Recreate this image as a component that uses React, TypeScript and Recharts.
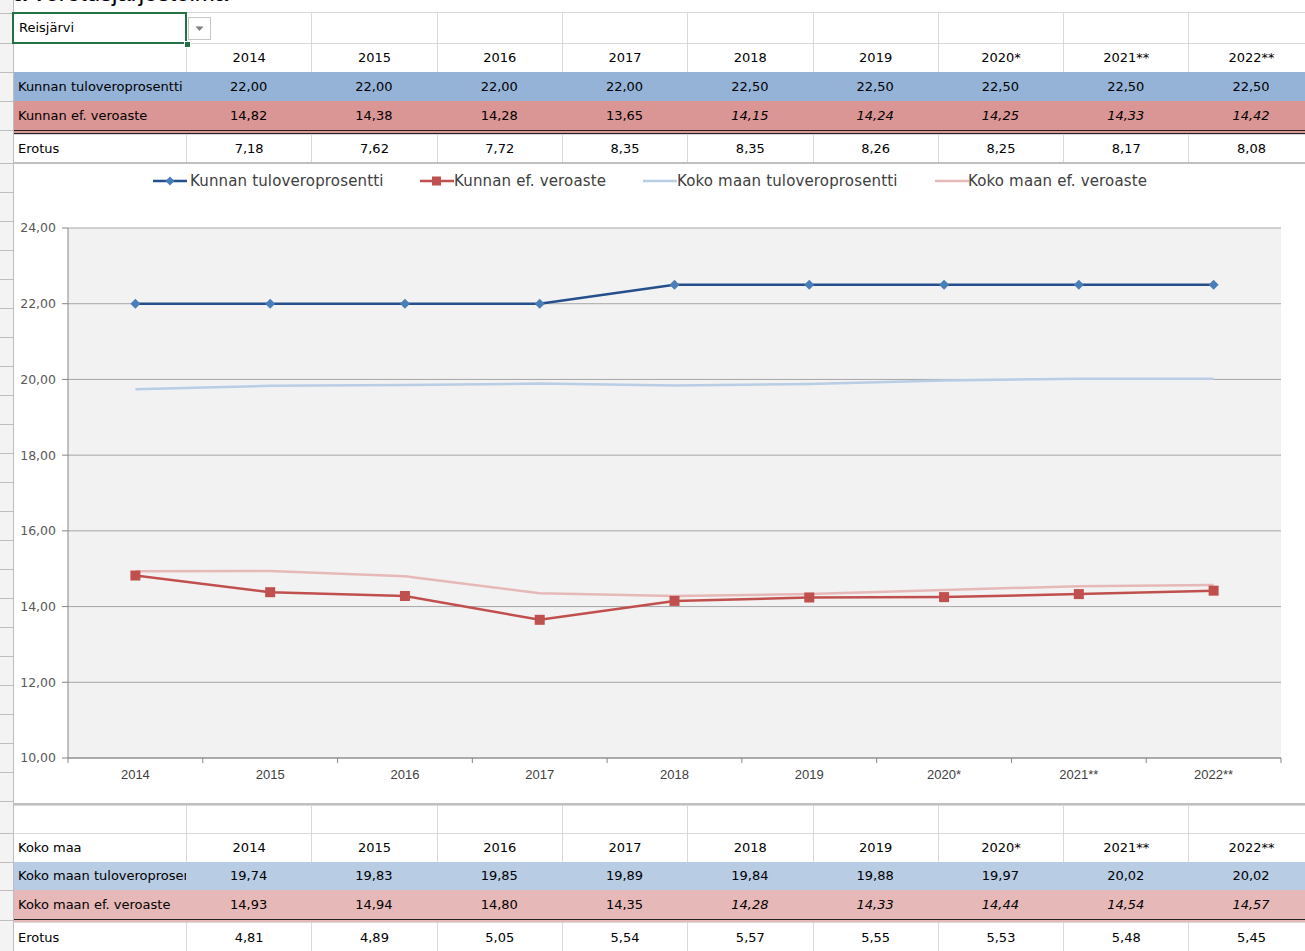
import React from 'react';
import { LineChart, Line, XAxis, YAxis, CartesianGrid, Legend } from 'recharts';

// chart categories (x axis) and table headers
const years = ['2014', '2015', '2016', '2017', '2018', '2019', '2020*', '2021**', '2022**'];

// Reisjärvi
const kunnanTulovero = [22.0, 22.0, 22.0, 22.0, 22.5, 22.5, 22.5, 22.5, 22.5];
const kunnanEfVeroaste = [14.82, 14.38, 14.28, 13.65, 14.15, 14.24, 14.25, 14.33, 14.42];
const kunnanErotus = [7.18, 7.62, 7.72, 8.35, 8.35, 8.26, 8.25, 8.17, 8.08];

// koko maa
const kokoTulovero = [19.74, 19.83, 19.85, 19.89, 19.84, 19.88, 19.97, 20.02, 20.02];
const kokoEfVeroaste = [14.93, 14.94, 14.8, 14.35, 14.28, 14.33, 14.44, 14.54, 14.57];
const kokoErotus = [4.81, 4.89, 5.05, 5.54, 5.57, 5.55, 5.53, 5.48, 5.45];

// first column shown as an estimate (italic) in the ef. veroaste rows
const estimateFrom = 4;

const yTicks = [10, 12, 14, 16, 18, 20, 22, 24];

const data = years.map((year, i) => ({
  year,
  kt: kunnanTulovero[i],
  ke: kunnanEfVeroaste[i],
  mt: kokoTulovero[i],
  me: kokoEfVeroaste[i],
}));

const fmt = (v: number) => v.toFixed(2).replace('.', ',');

const CELL_FONT = '"DejaVu Sans", Verdana, sans-serif';
const GRID = '#d9d9d9';
const LABEL_LEFT = 14;
const LABEL_W = 172;
const COL_W = 125.3;
const colLeft = (i: number) => LABEL_LEFT + LABEL_W + i * COL_W;

// chart box
const CHART_W = 1291;
const Y_AXIS_W = 54;
const RIGHT_M = 24;
const HALF_BAND = (CHART_W - Y_AXIS_W - RIGHT_M) / years.length / 2;

type RowProps = {
  top: number;
  height: number;
  bg?: string;
  label?: string;
  cells?: string[];
  italicFrom?: number;
  doubleBottom?: boolean;
};

const Row = ({ top, height, bg, label, cells, italicFrom, doubleBottom }: RowProps) => {
  const filled = !!bg;
  return (
    <div style={{
      position: 'absolute', left: LABEL_LEFT, top, width: 1305 - LABEL_LEFT, height,
      background: bg || '#fff', borderTop: filled ? 'none' : `1px solid ${GRID}`,
      borderBottom: doubleBottom ? '4px double #222' : 'none',
      boxSizing: 'content-box',
    }}>
      <div style={{
        position: 'absolute', left: 0, top: 0, width: LABEL_W - 4, height, paddingLeft: 4,
        lineHeight: `${height}px`, fontFamily: CELL_FONT, fontSize: 13, color: '#000',
        whiteSpace: 'nowrap', overflow: 'hidden',
      }}>{label}</div>
      {years.map((_, i) => (
        <div key={i} style={{
          position: 'absolute', left: colLeft(i) - LABEL_LEFT, top: 0, width: COL_W, height,
          borderLeft: filled ? 'none' : `1px solid ${GRID}`, boxSizing: 'border-box',
          textAlign: 'center', lineHeight: `${height}px`, fontFamily: CELL_FONT, fontSize: 13,
          color: '#000', fontStyle: italicFrom !== undefined && i >= italicFrom ? 'italic' : 'normal',
        }}>{cells ? cells[i] : ''}</div>
      ))}
    </div>
  );
};

const Diamond = (p: any) => {
  const { cx, cy, index } = p;
  if (cx == null || cy == null) return <g key={`dm-${index}`} />;
  const r = 5;
  return <path key={`dm-${index}`} d={`M${cx},${cy - r}L${cx + r},${cy}L${cx},${cy + r}L${cx - r},${cy}Z`} fill="#4a7ebb" />;
};

const Square = (p: any) => {
  const { cx, cy, index } = p;
  if (cx == null || cy == null) return <g key={`sq-${index}`} />;
  const r = 5;
  return <rect key={`sq-${index}`} x={cx - r} y={cy - r} width={2 * r} height={2 * r} fill="#c0504d" />;
};

const XTick = (props: any) => {
  const { x, y, payload, index } = props;
  const axisY = y - 12;
  return (
    <g>
      <line x1={x - HALF_BAND} x2={x - HALF_BAND} y1={axisY} y2={axisY + 5} stroke="#868686" />
      {index === years.length - 1 && <line x1={x + HALF_BAND} x2={x + HALF_BAND} y1={axisY} y2={axisY + 5} stroke="#868686" />}
      <text x={x} y={y} dy="0.71em" textAnchor="middle" fontFamily='"Liberation Sans", Arial, sans-serif' fontSize={13} fill="#404040">{payload.value}</text>
    </g>
  );
};

const legendItems = [
  { name: 'Kunnan tuloveroprosentti', color: '#254f8c', marker: 'diamond', icon: 139, text: 176 },
  { name: 'Kunnan ef. veroaste', color: '#c0504d', marker: 'square', icon: 406, text: 440 },
  { name: 'Koko maan tuloveroprosentti', color: '#b9cde5', marker: 'none', icon: 629, text: 663 },
  { name: 'Koko maan ef. veroaste', color: '#e6b9b8', marker: 'none', icon: 921, text: 954 },
];

const renderLegend = () => (
  <div style={{ position: 'relative', width: CHART_W, height: 20 }}>
    {legendItems.map((it) => (
      <React.Fragment key={it.name}>
        <svg style={{ position: 'absolute', left: it.icon, top: 4 }} width={34} height={12}>
          <line x1={0} x2={34} y1={6} y2={6} stroke={it.color} strokeWidth={2.5} />
          {it.marker === 'diamond' && <path d="M17,1.5L21.5,6L17,10.5L12.5,6Z" fill="#4a7ebb" />}
          {it.marker === 'square' && <rect x={12} y={1.5} width={9} height={9} fill="#c0504d" />}
        </svg>
        <span style={{
          position: 'absolute', left: it.text, top: 0, lineHeight: '20px', whiteSpace: 'nowrap',
          fontFamily: '"DejaVu Sans", sans-serif', fontSize: 15, letterSpacing: 0.15, color: '#404040',
        }}>{it.name}</span>
      </React.Fragment>
    ))}
  </div>
);

const stripTicks: number[] = [13, 43, 72, 101, 130, 163];
for (let t = 192; t <= 805; t += 29) stripTicks.push(t);
stripTicks.push(833, 862, 890, 920);

export default function App() {
  return (
    <div style={{ position: 'absolute', left: 0, top: 0, width: 1305, height: 951, overflow: 'hidden', background: '#fff' }}>
      {/* partly hidden sheet title */}
      <div style={{
        position: 'absolute', left: 8, top: -21, fontFamily: '"Liberation Sans", Arial, sans-serif', fontSize: 24, color: '#000', whiteSpace: 'nowrap',
      }}>ja verotusjärjestelmä</div>

      {/* row header strip */}
      <div style={{ position: 'absolute', left: 0, top: 0, width: 13, height: 951, background: '#f3f3f3', borderRight: '1px solid #bdbdbd' }} />
      {stripTicks.map((t) => (
        <div key={t} style={{ position: 'absolute', left: 0, top: t, width: 13, height: 1, background: '#bdbdbd' }} />
      ))}

      {/* top table */}
      <Row top={12} height={31} />
      <Row top={43} height={28} cells={years} />
      <Row top={72} height={29} bg="#95b3d7" label="Kunnan tuloveroprosentti" cells={kunnanTulovero.map(fmt)} />
      <Row top={101} height={29} bg="#da9694" label="Kunnan ef. veroaste" cells={kunnanEfVeroaste.map(fmt)} italicFrom={estimateFrom} doubleBottom />
      <Row top={134} height={28} label="Erotus" cells={kunnanErotus.map(fmt)} />

      {/* dropdown cell */}
      <div style={{
        position: 'absolute', left: 12, top: 12, width: 175, height: 32, border: '2px solid #217346', boxSizing: 'border-box',
        background: '#fff', fontFamily: CELL_FONT, fontSize: 13, lineHeight: '28px', paddingLeft: 5, color: '#000',
      }}>Reisjärvi</div>
      <div style={{ position: 'absolute', left: 184, top: 41, width: 5, height: 5, background: '#217346', border: '1px solid #fff' }} />
      <div style={{ position: 'absolute', left: 188, top: 17, width: 23, height: 23, border: '1px solid #c6c6c6', boxSizing: 'border-box', background: '#fff' }}>
        <svg width={21} height={21} style={{ display: 'block' }}>
          <path d="M6.5,8.5L14.5,8.5L10.5,13Z" fill="#7f7f7f" />
        </svg>
      </div>

      {/* chart */}
      <div style={{
        position: 'absolute', left: 14, top: 162, width: CHART_W, height: 643, background: '#fff',
        borderTop: '2px solid #bfbfbf', borderBottom: '2px solid #bfbfbf', boxSizing: 'border-box',
      }}>
        <LineChart width={CHART_W} height={639} data={data} margin={{ top: 44, right: RIGHT_M, left: 0, bottom: 0 }}>
          <CartesianGrid vertical={false} stroke="#a6a6a6" fill="#f2f2f2" />
          <XAxis dataKey="year" height={45} interval={0} tickSize={6} tickMargin={6} tickLine={false}
            padding={{ left: HALF_BAND, right: HALF_BAND }}
            axisLine={{ stroke: '#868686' }} tick={<XTick />} />
          <YAxis domain={[10, 24]} ticks={yTicks} width={Y_AXIS_W} tickFormatter={fmt} tickSize={6} tickMargin={6}
            tickLine={{ stroke: '#868686' }} axisLine={{ stroke: '#868686' }}
            tick={{ fontFamily: '"DejaVu Sans", sans-serif', fontSize: 12.5, fill: '#595959' }} />
          <YAxis yAxisId="frame" orientation="right" domain={[10, 24]} width={0} tick={false} tickLine={false}
            axisLine={{ stroke: '#868686' }} />
          <Legend verticalAlign="top" content={renderLegend} wrapperStyle={{ top: 7, left: 0, width: CHART_W }} />
          <Line type="linear" dataKey="mt" name="Koko maan tuloveroprosentti" stroke="#b9cde5" strokeWidth={2.5} dot={false} isAnimationActive={false} />
          <Line type="linear" dataKey="me" name="Koko maan ef. veroaste" stroke="#e6b9b8" strokeWidth={2.5} dot={false} isAnimationActive={false} />
          <Line type="linear" dataKey="kt" name="Kunnan tuloveroprosentti" stroke="#254f8c" strokeWidth={2.5} dot={Diamond} activeDot={false} isAnimationActive={false} />
          <Line type="linear" dataKey="ke" name="Kunnan ef. veroaste" stroke="#c0504d" strokeWidth={2.5} dot={Square} activeDot={false} isAnimationActive={false} />
        </LineChart>
      </div>

      {/* bottom table */}
      <Row top={805} height={27} />
      <Row top={833} height={28} label="Koko maa" cells={years} />
      <Row top={862} height={28} bg="#b8cce4" label="Koko maan tuloveroprosentti" cells={kokoTulovero.map(fmt)} />
      <Row top={890} height={29} bg="#e6b8b7" label="Koko maan ef. veroaste" cells={kokoEfVeroaste.map(fmt)} italicFrom={estimateFrom} doubleBottom />
      <Row top={922} height={29} label="Erotus" cells={kokoErotus.map(fmt)} />
    </div>
  );
}
